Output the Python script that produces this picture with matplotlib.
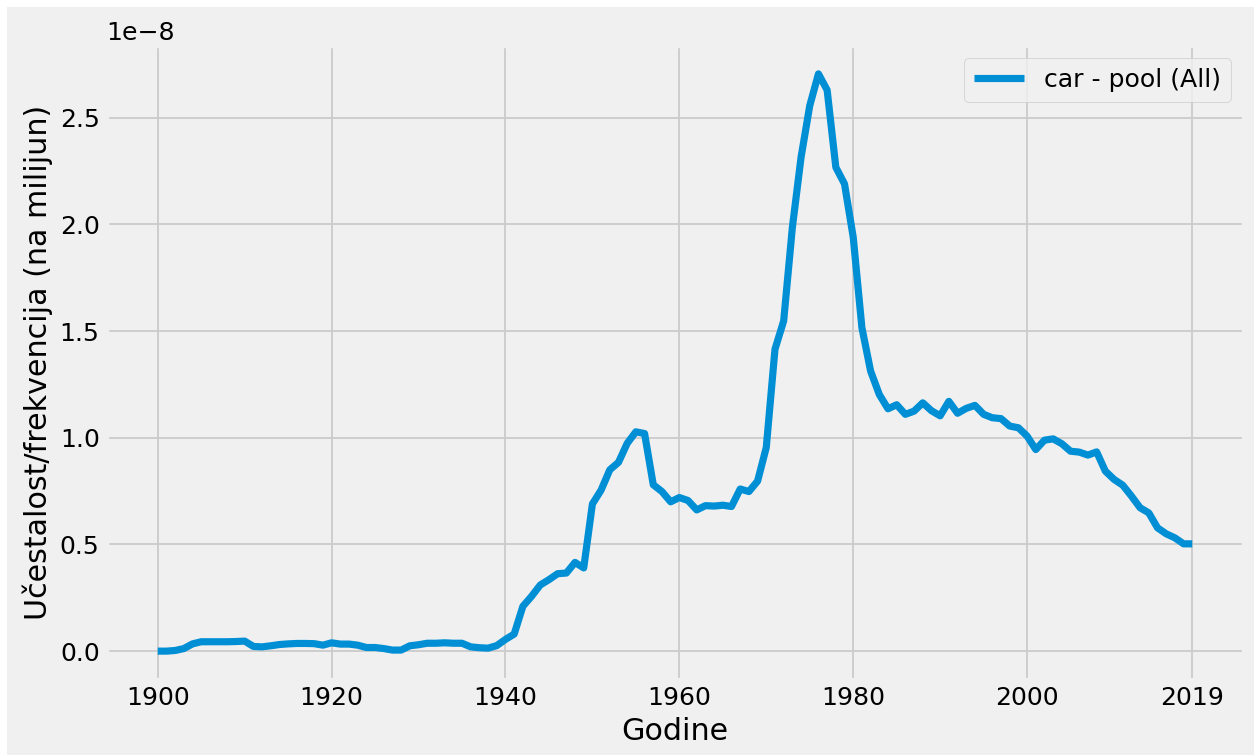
import numpy as np
import matplotlib
matplotlib.use("Agg")
import matplotlib.pyplot as plt
from matplotlib.patches import Rectangle

plt.style.use("fivethirtyeight")

years = np.arange(1900, 2020)
# frequency values, in units of 1e-8
freq = [
    0.000, 0.000, 0.003, 0.012, 0.034, 0.044, 0.044, 0.044, 0.044, 0.045,  # 1900s
    0.047, 0.022, 0.020, 0.025, 0.031, 0.034, 0.036, 0.036, 0.035, 0.028,  # 1910s
    0.039, 0.033, 0.033, 0.028, 0.017, 0.017, 0.012, 0.005, 0.005, 0.025,  # 1920s
    0.030, 0.037, 0.037, 0.039, 0.037, 0.037, 0.020, 0.016, 0.014, 0.026,  # 1930s
    0.055, 0.080, 0.210, 0.257, 0.310, 0.335, 0.363, 0.366, 0.416, 0.390,  # 1940s
    0.690, 0.755, 0.850, 0.885, 0.974, 1.028, 1.020, 0.780, 0.748, 0.700,  # 1950s
    0.720, 0.706, 0.662, 0.682, 0.680, 0.684, 0.678, 0.760, 0.748, 0.797,  # 1960s
    0.955, 1.415, 1.548, 1.986, 2.315, 2.557, 2.706, 2.630, 2.268, 2.190,  # 1970s
    1.940, 1.516, 1.313, 1.203, 1.136, 1.155, 1.110, 1.125, 1.164, 1.127,  # 1980s
    1.103, 1.171, 1.115, 1.138, 1.152, 1.110, 1.094, 1.090, 1.055, 1.047,  # 1990s
    1.008, 0.945, 0.989, 0.995, 0.972, 0.937, 0.933, 0.919, 0.934, 0.844,  # 2000s
    0.805, 0.778, 0.727, 0.672, 0.648, 0.578, 0.550, 0.531, 0.503, 0.503,  # 2010s
]
xticks = [1900, 1920, 1940, 1960, 1980, 2000, 2019]
label = "car - pool (All)"

dpi = 129
fig = plt.figure(figsize=(1256 / dpi, 755 / dpi), dpi=dpi, facecolor="white")
fig.patches.append(Rectangle((7 / 1256, 0), 1247 / 1256, 748 / 755,
                             transform=fig.transFigure, facecolor="#f0f0f0",
                             edgecolor="none", zorder=-10))
ax = fig.add_axes([106 / 1256, 75 / 755, 1138 / 1256, 635 / 755])

ax.plot(years, np.array(freq) * 1e-8, label=label)
ax.set_xticks(xticks)
ax.set_xlabel("Godine")
ax.set_ylabel("Učestalost/frekvencija (na milijun)")
ax.legend(loc="upper right")

fig.savefig("out.png", dpi=dpi, facecolor=fig.get_facecolor())
plt.close()
